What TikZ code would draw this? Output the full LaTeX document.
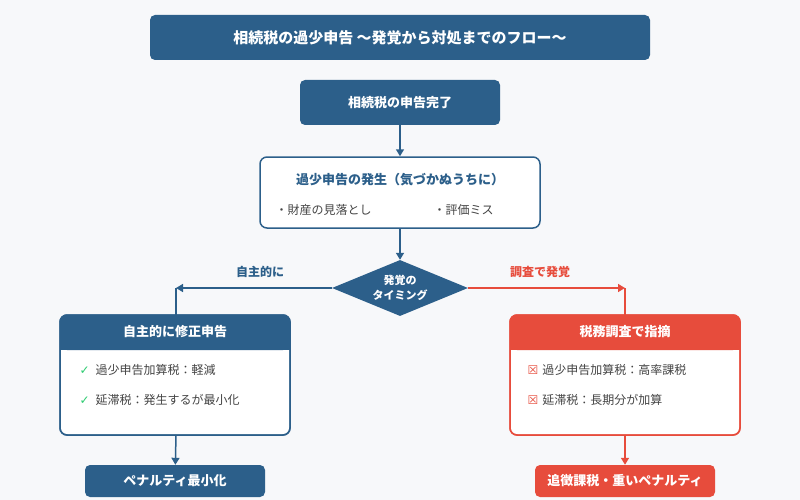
\documentclass[tikz,border=0pt]{standalone}
\usepackage{fontspec}
\setmainfont{Noto Sans CJK JP}
\newfontfamily\dejavu{DejaVu Sans}
\usetikzlibrary{shapes.geometric,arrows.meta}
\definecolor{bl}{HTML}{2C5F8A}
\definecolor{rd}{HTML}{E74C3C}
\definecolor{bg}{HTML}{F7F8FA}
\definecolor{tx}{HTML}{444444}
\definecolor{gr}{HTML}{2ECC71}
\begin{document}
\begin{tikzpicture}[x=1pt,y=-1pt,
 fbox/.style={rounded corners=5pt,fill=#1,text=white,font=\bfseries\fontsize{13}{15}\selectfont},
 arr/.style={-{Triangle[length=7pt,width=8pt]},line width=1.5pt},
 item/.style={anchor=west,text=tx,font=\fontsize{12}{14}\selectfont}]
\useasboundingbox (0,0) rectangle (800,500);
\fill[bg] (0,0) rectangle (800,500);
\node[fbox=bl,minimum width=500pt,minimum height=45pt,font=\bfseries\fontsize{15}{17}\selectfont] (title) at (400,37.5) {相続税の過少申告 〜発覚から対処までのフロー〜};
\node[fbox=bl,minimum width=200pt,minimum height=45pt] (done) at (400,102.5) {相続税の申告完了};
\node[draw=bl,line width=1.5pt,fill=white,rounded corners=7pt,minimum width=280pt,minimum height=71pt] (occ) at (400,192.5) {};
\node[text=bl,font=\bfseries\fontsize{13}{15}\selectfont] (occt) at (400,180) {過少申告の発生（気づかぬうちに）};
\node[item] (b1) at (272,210) {・財産の見落とし};
\node[item] (b2) at (430,210) {・評価ミス};
\node[diamond,fill=bl,minimum width=136pt,minimum height=56pt,inner sep=0pt,aspect=2.4,text=white,align=center,font=\bfseries\fontsize{11}{14}\selectfont] (dia) at (400,288) {};
\node[text=white,align=center,font=\bfseries\fontsize{11}{15}\selectfont] (diat) at (400,288) {発覚の\\タイミング};
% left box
\draw[bl,line width=1.5pt,fill=white,rounded corners=7pt] (60,315) rectangle (290,435);
\fill[bl,rounded corners=7pt] (60,315) rectangle (290,350);
\fill[bl] (60,335) rectangle (290,350);
\draw[bl,line width=1.5pt,rounded corners=7pt] (60,315) rectangle (290,435);
\node[text=white,font=\bfseries\fontsize{13}{15}\selectfont] (lh) at (175,332) {自主的に修正申告};
\coordinate (ltop) at (176,315);
\coordinate (lbot) at (176,435);
\node[item] (l1) at (76,370) {{\dejavu\color{gr}✓}\hspace{6pt}過少申告加算税：軽減};
\node[item] (l2) at (76,400) {{\dejavu\color{gr}✓}\hspace{6pt}延滞税：発生するが最小化};
% right box
\draw[rd,line width=1.5pt,fill=white,rounded corners=7pt] (510,315) rectangle (740,435);
\fill[rd,rounded corners=7pt] (510,315) rectangle (740,350);
\fill[rd] (510,335) rectangle (740,350);
\draw[rd,line width=1.5pt,rounded corners=7pt] (510,315) rectangle (740,435);
\node[text=white,font=\bfseries\fontsize{13}{15}\selectfont] (rh) at (625,332) {税務調査で指摘};
\coordinate (rtop) at (625,315);
\coordinate (rbot) at (625,435);
\node[item] (r1) at (524,370) {{\dejavu\color{rd}☒}\hspace{4pt}過少申告加算税：高率課税};
\node[item] (r2) at (524,400) {{\dejavu\color{rd}☒}\hspace{4pt}延滞税：長期分が加算};
% bottom
\node[fbox=bl,minimum width=180pt,minimum height=32pt] (lres) at (175,481) {ペナルティ最小化};
\node[fbox=rd,minimum width=180pt,minimum height=32pt] (rres) at (625,481) {追徴課税・重いペナルティ};
% connectors
\draw[arr,bl] (done) -- (occ);
\draw[arr,bl] (occ) -- (dia);
\coordinate (lc) at (176,288);
\coordinate (rc) at (625,288);
\draw[bl,line width=1.5pt] (lc) -- (ltop);
\draw[arr,bl] (dia.west) -- (lc);
\draw[rd,line width=1.5pt] (rc) -- (rtop);
\draw[arr,rd] (dia.east) -- (rc);
\node[text=bl,font=\bfseries\fontsize{12}{14}\selectfont] (ll) at (260,272) {自主的に};
\node[text=rd,font=\bfseries\fontsize{12}{14}\selectfont] (rl) at (540,272) {調査で発覚};
\draw[arr,bl] (lbot) -- (lres);
\draw[arr,rd] (rbot) -- (rres);
\end{tikzpicture}
\end{document}
